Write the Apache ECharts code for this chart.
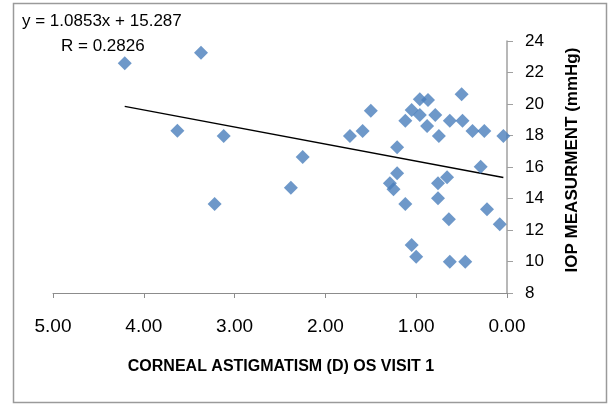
<!DOCTYPE html>
<html>
<head>
<meta charset="utf-8">
<script src="https://cdn.jsdelivr.net/npm/echarts@6/dist/echarts.min.js"></script>
<style>html,body{margin:0;padding:0;background:#fff;}#c{width:610px;height:405px;}</style>
</head>
<body>
<div id="c"></div>
<script>
// Corneal astigmatism (D), x values
const astigmatism = [4.21, 3.37, 3.63, 3.12, 3.22, 2.25, 2.38, 1.73, 1.59, 1.50,
  1.12, 1.05, 0.96, 0.87, 0.96, 0.88, 0.79, 0.75, 0.63, 0.50,
  0.49, 0.38, 0.25, 0.04, 1.21, 1.21, 1.29, 1.25, 1.12, 0.76,
  0.66, 0.76, 0.29, 0.64, 0.22, 0.08, 1.05, 1.00, 0.63, 0.46];
// IOP measurement (mmHg), y values
const iop = [22.58, 23.26, 18.30, 17.97, 13.65, 16.63, 14.69, 17.97, 18.29, 19.57,
  18.94, 19.62, 20.30, 20.25, 19.30, 18.60, 19.30, 17.97, 18.94, 20.62,
  18.94, 18.29, 18.29, 17.97, 17.25, 15.60, 14.97, 14.58, 13.65, 14.97,
  15.35, 14.01, 16.02, 12.68, 13.31, 12.36, 11.05, 10.30, 9.99, 9.99];
// Trendline end points
const trendX = [4.21, 0.04];
const trendY = [19.85, 15.33];
const xTicks = [0, 1, 2, 3, 4, 5];
const yTicks = [8, 10, 12, 14, 16, 18, 20, 22, 24];
const equationText = 'y = 1.0853x + 15.287';
const rText = 'R = 0.2826';
const xTitle = 'CORNEAL ASTIGMATISM (D) OS VISIT 1';
const yTitle = 'IOP MEASURMENT (mmHg)';

const points = astigmatism.map((x, i) => [x, iop[i]]);
const trend = trendX.map((x, i) => [x, trendY[i]]);

const chart = echarts.init(document.getElementById('c'), null, {renderer: 'canvas'});
chart.setOption({
  animation: false,
  backgroundColor: '#fff',
  grid: {left: 53, right: 103, top: 41, bottom: 112, containLabel: false, outerBoundsMode: 'none'},
  xAxis: {
    type: 'value', inverse: true, min: xTicks[0], max: xTicks[xTicks.length - 1], interval: 1,
    splitLine: {show: false},
    axisLine: {show: true, onZero: false, lineStyle: {color: '#8c8c8c', width: 1}},
    axisTick: {show: true, inside: false, length: 5, lineStyle: {color: '#8c8c8c'}},
    axisLabel: {formatter: v => v.toFixed(2), margin: 24, color: '#000', fontSize: 19, fontFamily: 'Liberation Sans'}
  },
  yAxis: {
    type: 'value', position: 'right', min: yTicks[0], max: yTicks[yTicks.length - 1], interval: 2,
    splitLine: {show: false},
    axisLine: {show: true, onZero: false, lineStyle: {color: '#a0a0a0', width: 1.5}},
    axisTick: {show: true, inside: false, length: 6, lineStyle: {color: '#a0a0a0'}},
    axisLabel: {margin: 18, color: '#000', fontSize: 17, fontFamily: 'Liberation Sans'}
  },
  series: [
    {
      type: 'scatter', data: points, symbol: 'diamond', symbolSize: 14,
      itemStyle: {color: '#4a7ebb'}, z: 3
    },
    {
      type: 'line', data: trend, symbol: 'none', lineStyle: {color: '#000', width: 1.5}, z: 2
    }
  ],
  graphic: [
    {type: 'rect', shape: {x: 13.5, y: 3.5, width: 593, height: 399}, style: {fill: 'none', stroke: '#9a9a9a', lineWidth: 1.5}, silent: true},
    {type: 'text', x: 22, y: 21, style: {text: equationText, fontSize: 17, fontFamily: 'Liberation Sans', fill: '#000', verticalAlign: 'middle', textAlign: 'left'}},
    {type: 'text', x: 61, y: 46, style: {text: rText, fontSize: 17, fontFamily: 'Liberation Sans', fill: '#000', verticalAlign: 'middle', textAlign: 'left'}},
    {type: 'text', x: 281, y: 367, style: {text: xTitle, fontSize: 16, fontWeight: 'bold', fontFamily: 'Liberation Sans', fill: '#000', verticalAlign: 'middle', textAlign: 'center'}},
    {type: 'text', x: 572, y: 160, rotation: Math.PI / 2, style: {text: yTitle, fontSize: 17, fontWeight: 'bold', fontFamily: 'Liberation Sans', fill: '#000', verticalAlign: 'middle', textAlign: 'center'}}
  ]
});
</script>
</body>
</html>
